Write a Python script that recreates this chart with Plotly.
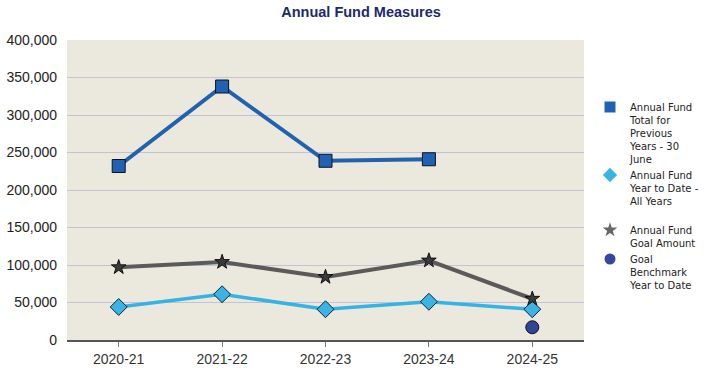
import plotly.graph_objects as go

years = ["2020-21", "2021-22", "2022-23", "2023-24", "2024-25"]
total_prev = [232000, 338000, 239000, 241000, None]
ytd_all = [44000, 61000, 41000, 51000, 41000]
goal_amount = [97000, 104000, 84000, 106000, 55000]
goal_bench = [None, None, None, None, 17000]

names = [
    "Annual Fund<br>Total for<br>Previous<br>Years - 30<br>June",
    "Annual Fund<br>Year to Date -<br>All Years<br> ",
    "Annual Fund<br>Goal Amount",
    "Goal<br>Benchmark<br>Year to Date",
]

lines = [dict(color="#2062ad", width=4), dict(color="#35b3e3", width=3.5),
         dict(color="#5a5a5a", width=4), None]
markers = [
    dict(symbol="square", size=13, color="#1f62b5", line=dict(color="#111", width=1)),
    dict(symbol="diamond", size=13, color="#3ab4e4", line=dict(color="#123", width=1)),
    dict(symbol="star", size=11, color="#3a3a3a", line=dict(color="#111", width=1)),
    dict(symbol="circle", size=13, color="#2f4596", line=dict(color="#111", width=1)),
]
legend_markers = [
    dict(symbol="square", size=11, color="#1f62b5", line=dict(color="#1f62b5", width=0)),
    dict(symbol="diamond", size=11, color="#3ab4e4", line=dict(color="#3ab4e4", width=0)),
    dict(symbol="star", size=11, color="#666666", line=dict(color="#666666", width=0)),
    dict(symbol="circle", size=11, color="#3347a0", line=dict(color="#3347a0", width=0)),
]
series = [total_prev, ytd_all, goal_amount, goal_bench]

fig = go.Figure()
for i, ys in enumerate(series):
    fig.add_trace(go.Scatter(
        x=years, y=ys, name=names[i], showlegend=False,
        mode="lines+markers" if lines[i] else "markers",
        line=lines[i] if lines[i] else None,
        marker=markers[i],
    ))
# legend-only entries (markers without lines, as in the reference)
for i in range(4):
    fig.add_trace(go.Scatter(
        x=[None], y=[None], name=names[i], mode="markers",
        marker=legend_markers[i], showlegend=True,
    ))

fig.update_layout(
    width=706, height=369,
    margin=dict(l=67, r=122, t=40, b=29, autoexpand=False),
    paper_bgcolor="white",
    plot_bgcolor="#ebe9dd",
    font=dict(family="Liberation Sans, Arial, sans-serif", color="#222"),
    title=dict(
        text="<b>Annual Fund Measures</b>",
        font=dict(family="Liberation Sans, Arial, sans-serif", size=14.5, color="#1b2a6b"),
        x=361 / 706, xanchor="center", yref="container", y=1 - 12 / 369, yanchor="middle",
    ),
    showlegend=True,
    legend=dict(
        x=(590 - 67) / 517, xanchor="left", y=(340 - 94) / 300, yanchor="top",
        font=dict(family="DejaVu Sans, Verdana, sans-serif", size=10, color="#222"),
        bgcolor="rgba(0,0,0,0)",
        valign="top",
        itemwidth=30,
    ),
    xaxis=dict(
        type="category", range=[-0.5, 4.5],
        showgrid=False, zeroline=False,
        showline=True, linecolor="#555", linewidth=1.5,
        ticks="outside", ticklen=5, tickcolor="#777",
        tickfont=dict(size=14, color="#333"),
    ),
    yaxis=dict(
        range=[0, 400000], dtick=50000, tickformat=",d",
        showgrid=True, gridcolor="#c5c1d6", gridwidth=1,
        zeroline=False, showline=False,
        ticks="", ticklabelstandoff=9,
        tickfont=dict(size=14, color="#222"),
    ),
)

fig.write_html("out.html", post_script="document.body.style.margin='0';",
               config={"displayModeBar": False})
